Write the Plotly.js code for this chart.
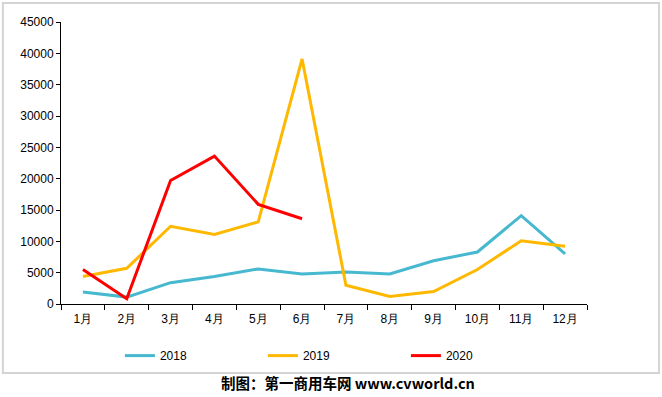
<!DOCTYPE html>
<html>
<head>
<meta charset="utf-8">
<script src="https://cdn.plot.ly/plotly-3.0.1.min.js"></script>
<style>html,body{margin:0;padding:0;background:#fff;}#chart{width:662px;height:397px;}</style>
</head>
<body>
<div id="chart"></div>
<script>
const months = ["1月","2月","3月","4月","5月","6月","7月","8月","9月","10月","11月","12月"];
const sales2018 = [1900, 1100, 3400, 4400, 5600, 4800, 5100, 4800, 6900, 8300, 14100, 8000];
const sales2019 = [4400, 5700, 12400, 11100, 13100, 39100, 3000, 1200, 2000, 5500, 10100, 9200];
const sales2020 = [5500, 850, 19700, 23600, 15900, 13600];

const font = "Liberation Sans, Arial, sans-serif";
const traces = [
  {x: months, y: sales2018, name: "2018", type: "scatter", mode: "lines", line: {color: "#46B8CF", width: 3}},
  {x: months, y: sales2019, name: "2019", type: "scatter", mode: "lines", line: {color: "#FFB800", width: 3}},
  {x: months.slice(0, sales2020.length), y: sales2020, name: "2020", type: "scatter", mode: "lines", line: {color: "#FF0000", width: 3}}
];

const layout = {
  width: 662, height: 397,
  margin: {l: 61, r: 75, t: 22, b: 93},
  paper_bgcolor: "#fff", plot_bgcolor: "#fff",
  font: {family: font, size: 12, color: "#000"},
  showlegend: true,
  legend: {orientation: "h", x: 0.112, xanchor: "left", y: -0.183, yanchor: "middle",
           entrywidth: 98, entrywidthmode: "pixels", itemwidth: 30,
           bgcolor: "rgba(0,0,0,0)",
           font: {family: font, size: 12, color: "#000"}},
  xaxis: {type: "category", range: [-0.5, 11.5], showline: true, linecolor: "#000", linewidth: 1,
          ticks: "outside", ticklen: 5, tickcolor: "#000", tickson: "boundaries", ticklabelstandoff: 4,
          showgrid: false, zeroline: false, tickfont: {family: font, size: 12}, fixedrange: true},
  yaxis: {range: [0, 45000], dtick: 5000, tickformat: "d", showline: true, linecolor: "#000", linewidth: 1,
          ticks: "outside", ticklen: 4, tickcolor: "#000", showgrid: false, zeroline: false,
          tickfont: {family: font, size: 12}, fixedrange: true},
  shapes: [{type: "rect", xref: "paper", yref: "paper",
            x0: -0.1105, x1: 1.137, y0: -0.245, y1: 1.067,
            line: {color: "#d4d4d4", width: 2}, fillcolor: "rgba(0,0,0,0)", layer: "below"}],
  annotations: [{xref: "paper", yref: "paper", x: 0.545, y: -0.28, xanchor: "center", yanchor: "middle",
                 showarrow: false, text: "<b>制图：第一商用车网 www.cvworld.cn</b>",
                 font: {family: "Noto Sans CJK SC, sans-serif", size: 14.5, color: "#000"}}]
};

Plotly.newPlot("chart", traces, layout, {displayModeBar: false, staticPlot: true});
</script>
</body>
</html>
